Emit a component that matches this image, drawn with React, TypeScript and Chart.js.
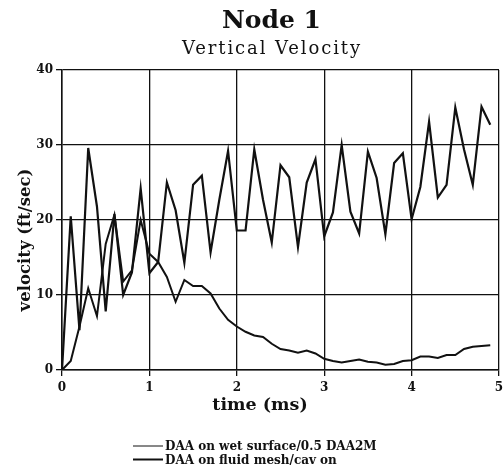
import React, { useEffect, useRef } from "react";
import { Chart, registerables } from "chart.js";

Chart.register(...registerables);

const times = [
  0, 0.1, 0.2, 0.3, 0.4, 0.5, 0.6, 0.7, 0.8, 0.9,
  1.0, 1.1, 1.2, 1.3, 1.4, 1.5, 1.6, 1.7, 1.8, 1.9,
  2.0, 2.1, 2.2, 2.3, 2.4, 2.5, 2.6, 2.7, 2.8, 2.9,
  3.0, 3.1, 3.2, 3.3, 3.4, 3.5, 3.6, 3.7, 3.8, 3.9,
  4.0, 4.1, 4.2, 4.3, 4.4, 4.5, 4.6, 4.7, 4.8, 4.9,
];

// DAA on wet surface/0.5 DAA2M (decaying curve)
const wetSurface = [
  0, 1.2, 5.8, 10.9, 7.2, 16.8, 20.7, 11.8, 13.3, 20.0,
  15.5, 14.4, 12.4, 9.1, 12.0, 11.2, 11.2, 10.2, 8.2, 6.7,
  5.8, 5.1, 4.6, 4.4, 3.5, 2.8, 2.6, 2.3, 2.6, 2.2,
  1.5, 1.2, 1.0, 1.2, 1.4, 1.1, 1.0, 0.7, 0.8, 1.2,
  1.3, 1.8, 1.8, 1.6, 2.0, 2.0, 2.8, 3.1, 3.2, 3.3,
];

// DAA on fluid mesh/cav on (oscillating curve)
const fluidMesh = [
  0, 20.5, 5.3, 29.6, 21.8, 7.8, 20.8, 10.0, 13.0, 24.2,
  12.9, 14.4, 25.0, 21.3, 14.3, 24.7, 25.9, 15.7, 22.7, 29.2,
  18.6, 18.6, 29.4, 22.7, 17.0, 27.3, 25.7, 16.4, 25.0, 28.1,
  17.8, 21.0, 30.0, 21.1, 18.2, 29.1, 25.6, 18.1, 27.6, 28.9,
  20.1, 24.4, 33.1, 23.0, 24.7, 35.0, 29.4, 24.7, 35.1, 32.7,
];

const xTicks = [0, 1, 2, 3, 4, 5];
const yTicks = [0, 10, 20, 30, 40];

const seriesLabels = ["DAA on wet surface/0.5 DAA2M", "DAA on fluid mesh/cav on"];
const titleText = "Node 1";
const subtitleText = "Vertical Velocity";
const xTitle = "time (ms)";
const yTitle = "velocity (ft/sec)";

const SERIF = '"DejaVu Serif", serif';
const INK = "#111";

const textPlugin = {
  id: "customTexts",
  afterDraw(chart: any) {
    const ctx: any = chart.ctx;
    ctx.save();
    ctx.fillStyle = INK;
    ctx.textBaseline = "alphabetic";
    ctx.textAlign = "center";
    ctx.font = `bold 25px ${SERIF}`;
    ctx.fillText(titleText, 271.5, 28);
    ctx.font = `18px ${SERIF}`;
    ctx.letterSpacing = "1.9px";
    ctx.fillText(subtitleText, 272, 54);
    ctx.letterSpacing = "0px";
    ctx.font = `bold 17.5px ${SERIF}`;
    ctx.fillText(xTitle, 260, 410);
    ctx.save();
    ctx.translate(26, 240);
    ctx.rotate(-Math.PI / 2);
    ctx.textBaseline = "middle";
    ctx.font = `bold 16.5px ${SERIF}`;
    ctx.fillText(yTitle, 0, 0);
    ctx.restore();

    // legend
    ctx.textAlign = "left";
    ctx.font = `bold 12px ${SERIF}`;
    const rows = [446, 459.5];
    const widths = [1, 2];
    chart.data.datasets.forEach((ds: any, i: number) => {
      const y = rows[i];
      ctx.strokeStyle = INK;
      ctx.lineWidth = widths[i];
      ctx.beginPath();
      ctx.moveTo(133, y);
      ctx.lineTo(163, y);
      ctx.stroke();
      ctx.fillText(ds.label, 165, y + 4);
    });
    ctx.restore();
  },
};

export default function App() {
  const ref = useRef<HTMLCanvasElement | null>(null);
  useEffect(() => {
    if (!ref.current) return;
    const chart = new Chart(ref.current, {
      type: "line",
      data: {
        datasets: [
          {
            label: seriesLabels[0],
            data: times.map((t, i) => ({ x: t, y: wetSurface[i] })),
            borderColor: INK,
            borderWidth: 2,
            pointRadius: 0,
            tension: 0,
            fill: false,
          },
          {
            label: seriesLabels[1],
            data: times.map((t, i) => ({ x: t, y: fluidMesh[i] })),
            borderColor: INK,
            borderWidth: 2.2,
            pointRadius: 0,
            tension: 0,
            fill: false,
          },
        ],
      },
      options: {
        responsive: false,
        animation: false,
        layout: { padding: { left: 0, top: 70, right: 4, bottom: 0 } },
        plugins: {
          legend: { display: false },
          title: { display: false },
          tooltip: { enabled: false },
        },
        scales: {
          x: {
            type: "linear",
            min: 0,
            max: 5,
            afterBuildTicks: (s: any) => {
              s.ticks = xTicks.map((v) => ({ value: v }));
            },
            afterFit: (s: any) => {
              s.height = 100;
              s.paddingLeft = 0;
              s.paddingRight = 0;
            },
            grid: { color: INK, lineWidth: 1.3, tickLength: 6 },
            border: { color: INK, width: 1.5 },
            ticks: {
              autoSkip: false,
              maxRotation: 0,
              padding: 5,
              color: INK,
              font: { family: SERIF, size: 12, weight: "bold" },
            },
          },
          y: {
            type: "linear",
            min: 0,
            max: 40,
            afterBuildTicks: (s: any) => {
              s.ticks = yTicks.map((v) => ({ value: v }));
            },
            afterFit: (s: any) => {
              s.width = 62;
              s.paddingTop = 0;
              s.paddingBottom = 0;
            },
            grid: { color: INK, lineWidth: 1.3, tickLength: 6 },
            border: { color: INK, width: 1.5 },
            ticks: {
              padding: 3,
              color: INK,
              font: { family: SERIF, size: 12, weight: "bold" },
            },
          },
        },
      },
      plugins: [textPlugin],
    });
    return () => chart.destroy();
  }, []);
  return (
    <div style={{ position: "fixed", left: 0, top: 0, width: 503, height: 470, background: "#fff" }}>
      <canvas ref={ref} width={503} height={470} />
    </div>
  );
}
